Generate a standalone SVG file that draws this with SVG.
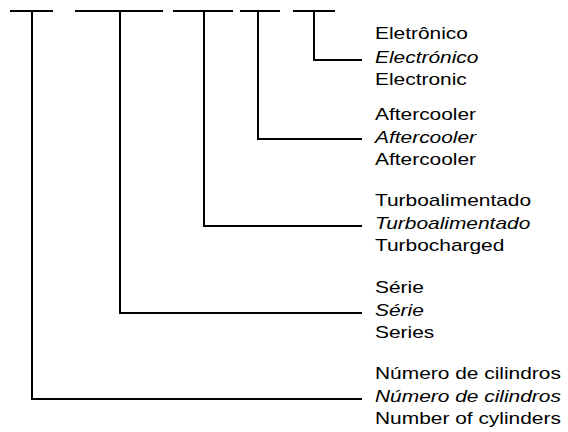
<svg xmlns="http://www.w3.org/2000/svg" width="568" height="432" viewBox="0 0 568 432">
<style>
.ln{stroke:#000;stroke-width:2;fill:none;stroke-linecap:butt}
text{font-family:"Liberation Sans",Arial,sans-serif;font-size:17px;fill:#000}
.it{font-style:italic}
</style>
<rect width="568" height="432" fill="#fff"/>
<g id="connectors">
<path class="ln" d="M10 11H53M75 11H163M173 11H233M240 11H280M293 11H335"/>
<path class="ln" d="M314 11V60H362"/>
<path class="ln" d="M258 11V139H362"/>
<path class="ln" d="M204 11V226H362"/>
<path class="ln" d="M120 11V313H362"/>
<path class="ln" d="M32 11V399H362"/>
</g>
<g id="n-electronic" transform="matrix(1.23 0 0 1 375 0)">
<text x="0" y="39">Eletrônico</text>
<text x="0" y="63" class="it">Electrónico</text>
<text x="0" y="85">Electronic</text>
</g>
<g id="n-aftercooler" transform="matrix(1.23 0 0 1 375 0)">
<text x="0" y="120">Aftercooler</text>
<text x="0" y="143" class="it">Aftercooler</text>
<text x="0" y="165">Aftercooler</text>
</g>
<g id="n-turbo" transform="matrix(1.23 0 0 1 375 0)">
<text x="0" y="206">Turboalimentado</text>
<text x="0" y="229" class="it">Turboalimentado</text>
<text x="0" y="251">Turbocharged</text>
</g>
<g id="n-serie" transform="matrix(1.23 0 0 1 375 0)">
<text x="0" y="293">Série</text>
<text x="0" y="316" class="it">Série</text>
<text x="0" y="338">Series</text>
</g>
<g id="n-cylinders" transform="matrix(1.23 0 0 1 375 0)">
<text x="0" y="379">Número de cilindros</text>
<text x="0" y="402" class="it">Número de cilindros</text>
<text x="0" y="424">Number of cylinders</text>
</g>
</svg>
